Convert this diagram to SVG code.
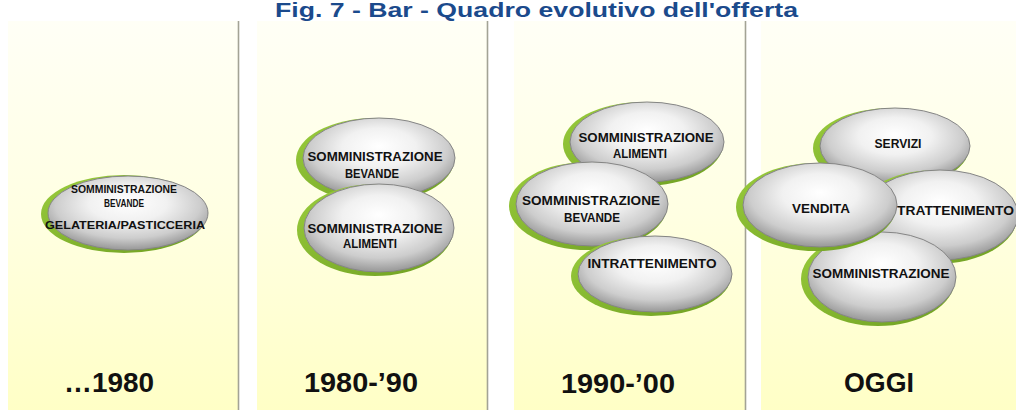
<svg xmlns="http://www.w3.org/2000/svg" width="1016" height="410" viewBox="0 0 1016 410">
  <defs>
    <linearGradient id="panelGrad" x1="0" y1="0" x2="0" y2="1">
      <stop offset="0" stop-color="#FFFFF6"/>
      <stop offset="0.5" stop-color="#FFFFE2"/>
      <stop offset="1" stop-color="#FFFFC6"/>
    </linearGradient>
    <radialGradient id="ovalGrad" cx="50%" cy="40%" r="58%" fx="50%" fy="35%">
      <stop offset="0" stop-color="#FFFFFF"/>
      <stop offset="0.42" stop-color="#F1F1F1"/>
      <stop offset="0.78" stop-color="#CDCDCD"/>
      <stop offset="1" stop-color="#9E9E9E"/>
    </radialGradient>
    <linearGradient id="greenGrad" x1="0" y1="0" x2="1" y2="1">
      <stop offset="0" stop-color="#9ACD3C"/>
      <stop offset="1" stop-color="#6E9E22"/>
    </linearGradient>
    <style>
      .panel { fill: url(#panelGrad); }
      .divider { stroke: #A3A395; stroke-width: 1.6; }
      .rim { fill: url(#greenGrad); }
      .oval { fill: url(#ovalGrad); stroke: #858585; stroke-width: 1; }
      .lbl { font-family: "Liberation Sans", Arial, sans-serif; font-weight: bold; fill: #111111; text-anchor: middle; }
      .s10 { font-size: 11px; }
      .s13 { font-size: 13px; }
      .year { font-family: "Liberation Sans", Arial, sans-serif; font-weight: bold; font-size: 28px; fill: #111111; text-anchor: middle; }
      .title { font-family: "Liberation Sans", Arial, sans-serif; font-weight: bold; font-size: 21px; fill: #1B4A8C; }
    </style>
  </defs>

  <rect x="0" y="0" width="1016" height="410" fill="#FFFFFF"/>

  <text class="title" x="275" y="17" textLength="523" lengthAdjust="spacingAndGlyphs">Fig. 7 - Bar - Quadro evolutivo dell'offerta</text>

  <g id="panels">
    <rect class="panel" x="8" y="21" width="230" height="389"/>
    <rect class="panel" x="257" y="21" width="230" height="389"/>
    <rect class="panel" x="514" y="21" width="231" height="389"/>
    <rect class="panel" x="761" y="21" width="255" height="389"/>
    <line class="divider" x1="238.5" y1="21" x2="238.5" y2="410"/>
    <line class="divider" x1="487.5" y1="21" x2="487.5" y2="410"/>
    <line class="divider" x1="745.5" y1="21" x2="745.5" y2="410"/>
  </g>

  <g id="connectors"/>

  <!-- Panel 1 -->
  <g id="p1-somministrazione">
    <ellipse class="rim" cx="124" cy="214" rx="83" ry="39"/>
    <ellipse class="oval" cx="128" cy="213" rx="80" ry="37"/>
    <text class="lbl s10" x="124" y="193" textLength="106" lengthAdjust="spacingAndGlyphs">SOMMINISTRAZIONE</text>
    <text class="lbl s10" x="124" y="207" textLength="40" lengthAdjust="spacingAndGlyphs">BEVANDE</text>
    <text class="lbl s10" x="125" y="229" textLength="160" lengthAdjust="spacingAndGlyphs">GELATERIA/PASTICCERIA</text>
  </g>

  <!-- Panel 2 -->
  <g id="p2-bevande">
    <ellipse class="rim" cx="375" cy="160" rx="79" ry="42"/>
    <ellipse class="oval" cx="379" cy="158" rx="76" ry="40"/>
    <text class="lbl s13" x="375" y="161" textLength="135" lengthAdjust="spacingAndGlyphs">SOMMINISTRAZIONE</text>
    <text class="lbl s13" x="372" y="178" textLength="54" lengthAdjust="spacingAndGlyphs">BEVANDE</text>
  </g>
  <g id="p2-alimenti">
    <ellipse class="rim" cx="375" cy="230" rx="78" ry="46"/>
    <ellipse class="oval" cx="379" cy="228" rx="75" ry="44"/>
    <text class="lbl s13" x="375" y="233" textLength="135" lengthAdjust="spacingAndGlyphs">SOMMINISTRAZIONE</text>
    <text class="lbl s13" x="370" y="248" textLength="54" lengthAdjust="spacingAndGlyphs">ALIMENTI</text>
  </g>

  <!-- Panel 3 -->
  <g id="p3-alimenti">
    <ellipse class="rim" cx="643" cy="144" rx="80" ry="42"/>
    <ellipse class="oval" cx="647" cy="142" rx="77" ry="40"/>
    <text class="lbl s13" x="646" y="142" textLength="135" lengthAdjust="spacingAndGlyphs">SOMMINISTRAZIONE</text>
    <text class="lbl s13" x="640" y="158" textLength="54" lengthAdjust="spacingAndGlyphs">ALIMENTI</text>
  </g>
  <g id="p3-bevande">
    <ellipse class="rim" cx="588" cy="206" rx="79" ry="44"/>
    <ellipse class="oval" cx="592" cy="204" rx="76" ry="42"/>
    <text class="lbl s13" x="591" y="205" textLength="138" lengthAdjust="spacingAndGlyphs">SOMMINISTRAZIONE</text>
    <text class="lbl s13" x="592" y="222" textLength="56" lengthAdjust="spacingAndGlyphs">BEVANDE</text>
  </g>
  <g id="p3-intrattenimento">
    <ellipse class="rim" cx="651" cy="276" rx="80" ry="40"/>
    <ellipse class="oval" cx="655" cy="274" rx="77" ry="38"/>
    <text class="lbl s13" x="652" y="268" textLength="129" lengthAdjust="spacingAndGlyphs">INTRATTENIMENTO</text>
  </g>

  <!-- Panel 4 -->
  <g id="p4-servizi">
    <ellipse class="rim" cx="891" cy="148" rx="78" ry="40"/>
    <ellipse class="oval" cx="895" cy="146" rx="75" ry="38"/>
    <text class="lbl s13" x="898" y="148" textLength="47" lengthAdjust="spacingAndGlyphs">SERVIZI</text>
  </g>
  <g id="p4-intrattenimento">
    <ellipse class="rim" cx="936" cy="217" rx="81" ry="47"/>
    <ellipse class="oval" cx="940" cy="215" rx="78" ry="45"/>
    <text class="lbl s13" x="897" y="215" style="text-anchor:start" textLength="117" lengthAdjust="spacingAndGlyphs">TRATTENIMENTO</text>
  </g>
  <g id="p4-somministrazione">
    <ellipse class="rim" cx="878" cy="279" rx="77" ry="47"/>
    <ellipse class="oval" cx="882" cy="277" rx="74" ry="45"/>
    <text class="lbl s13" x="881" y="278" textLength="137" lengthAdjust="spacingAndGlyphs">SOMMINISTRAZIONE</text>
  </g>
  <g id="p4-vendita">
    <ellipse class="rim" cx="816" cy="207" rx="80" ry="44"/>
    <ellipse class="oval" cx="820" cy="205" rx="77" ry="42"/>
    <text class="lbl s13" x="821" y="213" textLength="58" lengthAdjust="spacingAndGlyphs">VENDITA</text>
  </g>

  <g id="years">
    <text class="year" x="109" y="392" textLength="90" lengthAdjust="spacingAndGlyphs">…1980</text>
    <text class="year" x="361" y="392" textLength="114" lengthAdjust="spacingAndGlyphs">1980-’90</text>
    <text class="year" x="618" y="393" textLength="114" lengthAdjust="spacingAndGlyphs">1990-’00</text>
    <text class="year" x="879" y="392" textLength="70" lengthAdjust="spacingAndGlyphs">OGGI</text>
  </g>
</svg>
